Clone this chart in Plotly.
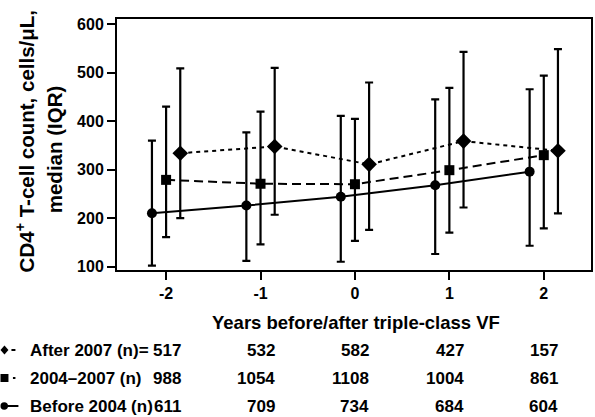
import plotly.graph_objects as go

years = [-2, -1, 0, 1, 2]

before_med = [210, 226, 244, 268, 296]
before_q1 = [102, 112, 110, 126, 143]
before_q3 = [360, 377, 411, 445, 466]

mid_med = [279, 271, 270, 299, 330]
mid_q1 = [161, 146, 153, 170, 179]
mid_q3 = [430, 420, 405, 469, 494]

after_med = [334, 348, 311, 359, 339]
after_q1 = [200, 207, 176, 222, 210]
after_q3 = [509, 510, 480, 543, 549]

after_n = [517, 532, 582, 427, 157]
mid_n = [988, 1054, 1108, 1004, 861]
before_n = [611, 709, 734, 684, 604]

row_labels = ["After 2007 (n)=", "2004\u20132007 (n)", "Before 2004 (n)"]
y_ticks = [100, 200, 300, 400, 500, 600]

FONT = "Liberation Sans, Arial, sans-serif"
W, H = 595, 417
L, R, T, B = 117, 2, 19, 147
PW, PH = W - L - R, H - T - B


def px(x):
    return (x - L) / PW


def py(y):
    return (H - B - y) / PH


def series(med, q1, q3, offset, symbol, size, dash):
    xs = [y + offset for y in years]
    return go.Scatter(
        x=xs, y=med, mode="lines+markers",
        line=dict(color="black", width=2, dash=dash),
        marker=dict(symbol=symbol, size=size, color="black"),
        error_y=dict(type="data", symmetric=False,
                     array=[h - m for h, m in zip(q3, med)],
                     arrayminus=[m - l for m, l in zip(med, q1)],
                     color="black", thickness=2.2, width=4),
        showlegend=False, cliponaxis=False,
    )


fig = go.Figure()
fig.add_trace(series(before_med, before_q1, before_q3, -0.15, "circle", 10, "solid"))
fig.add_trace(series(mid_med, mid_q1, mid_q3, 0.0, "square", 10, "9px,5px"))
fig.add_trace(series(after_med, after_q1, after_q3, 0.15, "diamond", 12, "4px,4px"))

tickfont = dict(family=FONT, size=16, color="black", weight="bold")

fig.update_layout(
    width=W, height=H,
    margin=dict(l=L, r=R, t=T, b=B),
    plot_bgcolor="white", paper_bgcolor="white",
    xaxis=dict(range=[-2.52, 2.5], tickvals=years, ticktext=[str(v) for v in years],
               showline=True, linecolor="black", linewidth=2, mirror=True,
               ticks="outside", ticklen=8, tickwidth=2, tickcolor="black",
               showgrid=False, zeroline=False, tickfont=tickfont),
    yaxis=dict(range=[93, 611], tickvals=y_ticks,
               showline=True, linecolor="black", linewidth=2, mirror=True,
               ticks="outside", ticklen=8, tickwidth=2, tickcolor="black",
               showgrid=False, zeroline=False, tickfont=tickfont),
)

ann_font = dict(family=FONT, size=17, color="black", weight="bold")
ytitle_font = dict(family=FONT, size=20.5, color="black", weight="bold")

# Y axis title (two lines)
fig.add_annotation(text="CD4<sup>+</sup> T-cell count, cells/\u03bcL,", textangle=-90,
                   x=px(25), y=py(141), xref="paper", yref="paper",
                   xanchor="center", yanchor="middle", showarrow=False, font=ytitle_font)
fig.add_annotation(text="median (IQR)", textangle=-90,
                   x=px(54), y=py(149), xref="paper", yref="paper",
                   xanchor="center", yanchor="middle", showarrow=False, font=ytitle_font)

# X axis title
fig.add_annotation(text="Years before/after triple-class VF",
                   x=px(357), y=py(322), xref="paper", yref="paper",
                   xanchor="center", yanchor="middle", showarrow=False,
                   font=dict(family=FONT, size=18.5, color="black", weight="bold"))

# Table rows
rows_y = [350, 378, 406]
for lab, ns, yy in zip(row_labels, [after_n, mid_n, before_n], rows_y):
    fig.add_annotation(text=lab, x=px(28), y=py(yy), xref="paper", yref="paper",
                       xanchor="left", yanchor="middle", showarrow=False, font=ann_font)
    for xv, n in zip(years, ns):
        fig.add_annotation(text=str(n), x=xv + 0.175, y=py(yy), xref="x", yref="paper",
                           xanchor="right", yanchor="middle", showarrow=False, font=ann_font)

# Legend glyphs
shape_common = dict(xref="paper", yref="paper", line=dict(color="black", width=0),
                    fillcolor="black")
y1 = rows_y[0]
fig.add_shape(type="path",
              path=f"M {px(0)},{py(y1)} L {px(4)},{py(y1-4.5)} L {px(8)},{py(y1)} L {px(4)},{py(y1+4.5)} Z",
              **shape_common)
fig.add_shape(type="line", x0=px(11), x1=px(15), y0=py(y1), y1=py(y1), xref="paper", yref="paper",
              line=dict(color="black", width=2))
y2 = rows_y[1]
fig.add_shape(type="rect", x0=px(0), x1=px(8), y0=py(y2 - 4), y1=py(y2 + 4), **shape_common)
fig.add_shape(type="line", x0=px(12.5), x1=px(15), y0=py(y2), y1=py(y2), xref="paper", yref="paper",
              line=dict(color="black", width=2))
y3 = rows_y[2]
fig.add_shape(type="circle", x0=px(0), x1=px(7.5), y0=py(y3 - 3.75), y1=py(y3 + 3.75), **shape_common)
fig.add_shape(type="line", x0=px(6), x1=px(18), y0=py(y3), y1=py(y3), xref="paper", yref="paper",
              line=dict(color="black", width=2))

fig.write_html("out.html", post_script="document.body.style.margin='0px';",
               config={"displayModeBar": False})
